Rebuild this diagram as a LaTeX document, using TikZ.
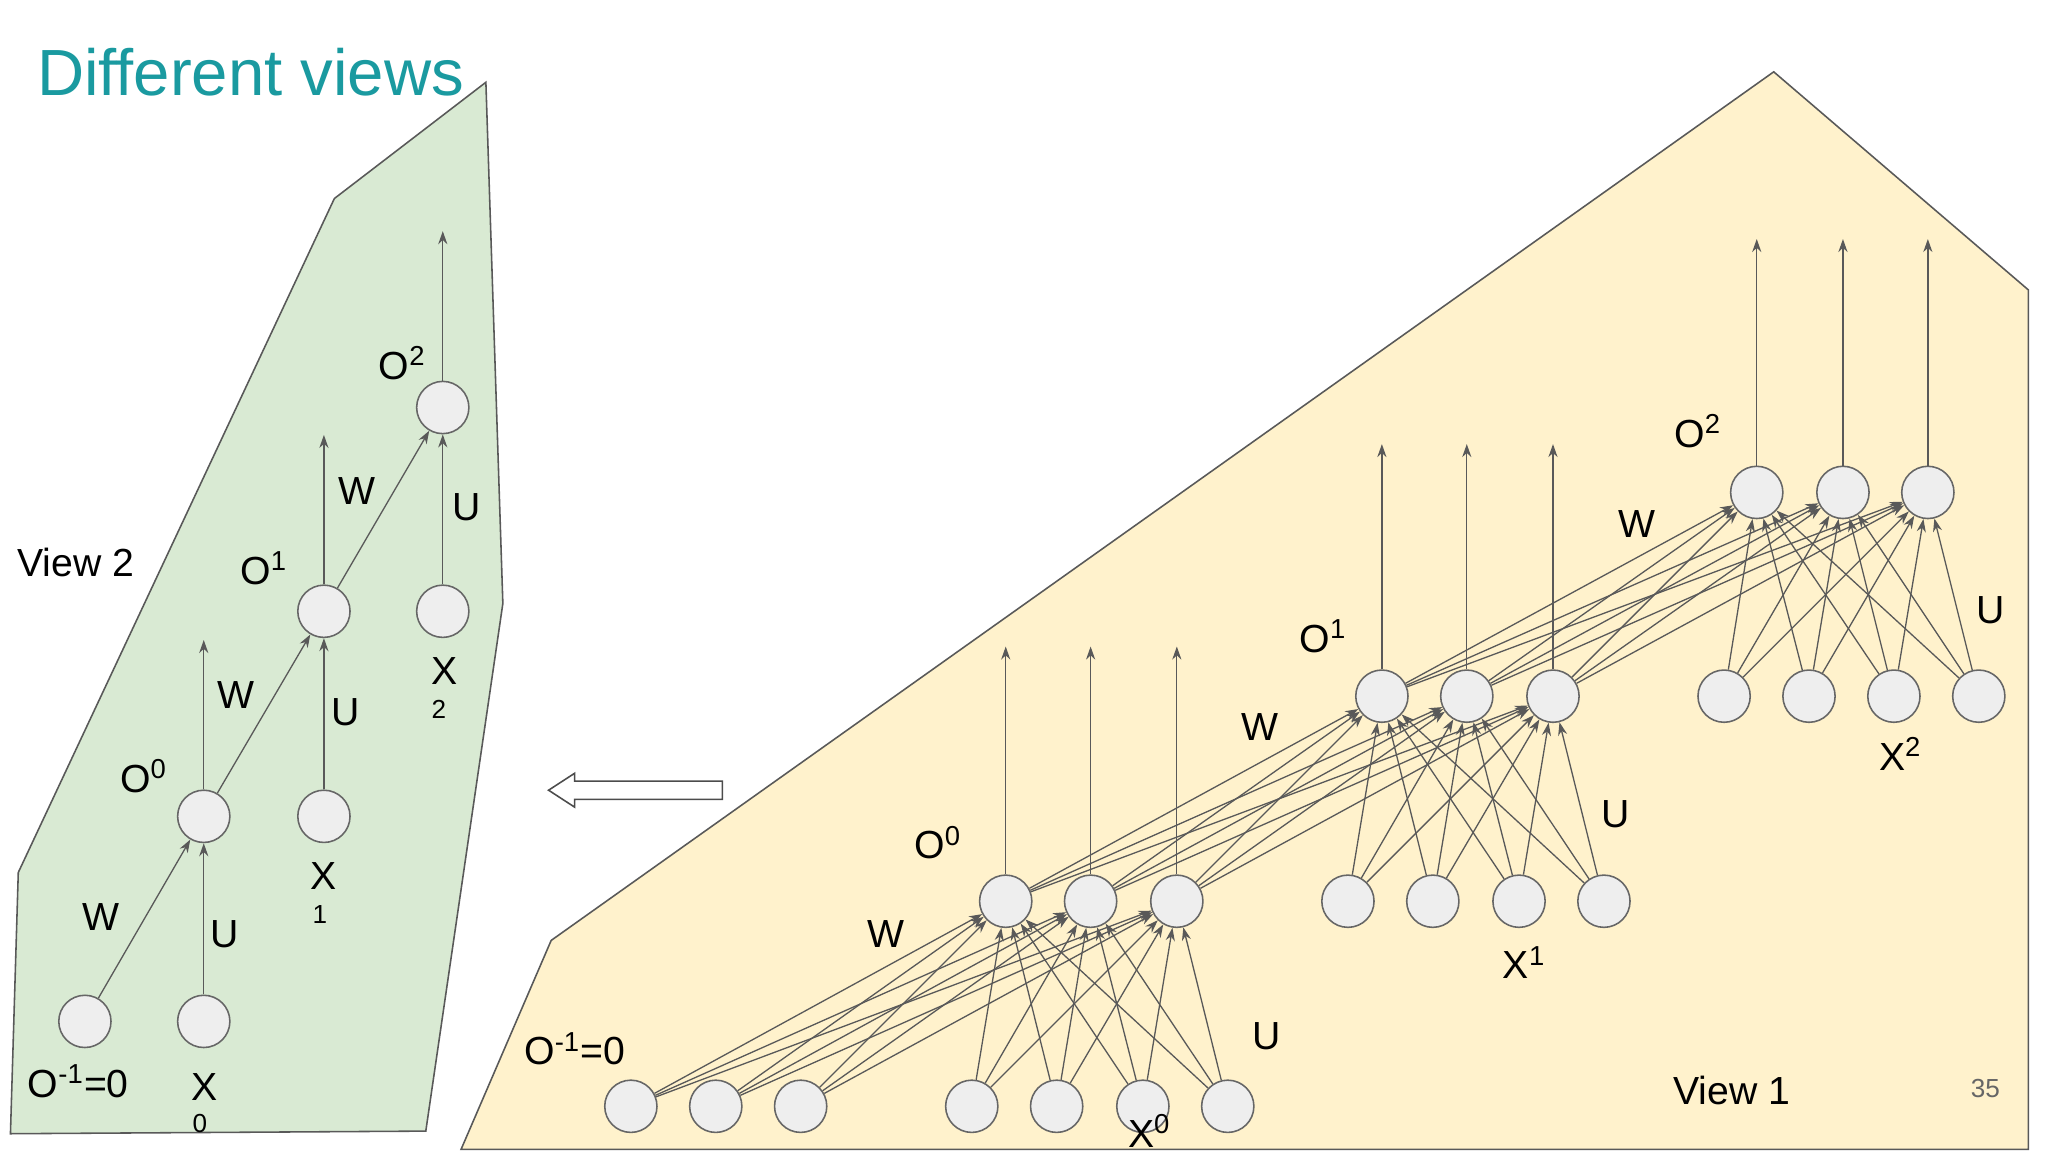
\documentclass[tikz,border=0pt]{standalone}
\usepackage{fontspec}
\setmainfont{Liberation Sans}
\usetikzlibrary{arrows.meta}
\definecolor{lg}{HTML}{D9EAD3}
\definecolor{ly}{HTML}{FFF2CC}
\definecolor{teal}{HTML}{1A9AA0}
\definecolor{nf}{HTML}{EEEEEE}
\newcommand{\sps}[1]{\textsuperscript{#1}}
\begin{document}
\begin{tikzpicture}[x=0.5pt,y=-0.5pt,
  nd/.style={circle,draw=black!60,fill=nf,line width=0.6pt,minimum size=20pt,inner sep=0pt},
  ar/.style={draw=black!65,line width=0.5pt,-{Stealth[length=5pt,width=3.5pt]}},
  lb/.style={font=\fontsize{15}{17}\selectfont,inner sep=0pt},
  sub/.style={font=\fontsize{10}{11}\selectfont,inner sep=0pt}]
\useasboundingbox (0,0) rectangle (1568,882);
\fill[white] (0,0) rectangle (1568,882);
\filldraw[fill=lg,draw=black!65,line width=0.6pt] (372,63)--(256,152)--(14,668)--(8,868)--(326,866)--(385,462)--cycle;
\filldraw[fill=ly,draw=black!65,line width=0.6pt] (1358,55)--(1553,222)--(1553,880)--(353,880)--(422,720)--cycle;
\node[anchor=west,text=teal,font=\fontsize{25}{28}\selectfont,inner sep=0pt] (title) at (28,55) {Different views};
% View 2
\node[nd] (a) at (65,782) {}; \node[nd] (b) at (156,782) {};
\node[nd] (c) at (156,625) {}; \node[nd] (d) at (248,625) {};
\node[nd] (e) at (248,468) {}; \node[nd] (f) at (339,468) {};
\node[nd] (g) at (339,312) {};
\coordinate (c2) at (156,490); \coordinate (e2) at (248,333); \coordinate (g2) at (339,177);
\draw[ar] (a)--(c); \draw[ar] (b)--(c); \draw[ar] (c)--(e); \draw[ar] (d)--(e);
\draw[ar] (e)--(g); \draw[ar] (f)--(g);
\draw[ar] (c)--(c2); \draw[ar] (e)--(e2); \draw[ar] (g)--(g2);
\node[lb] (l1) at (77,702) {W}; \node[lb] (l2) at (172,715) {U};
\node[lb] (l3) at (110,594) {O\sps{0}}; \node[lb] (l4) at (181,532) {W};
\node[lb] (l5) at (265,545) {U}; \node[lb] (l6) at (248,671) {X}; \node[sub] (l7) at (245,700) {1};
\node[lb] (l8) at (202,435) {O\sps{1}}; \node[lb] (l9) at (273,376) {W};
\node[lb] (l10) at (357,388) {U}; \node[lb] (l11) at (340,514) {X}; \node[sub] (l12) at (336,543) {2};
\node[lb] (l13) at (308,278) {O\sps{2}}; \node[lb] (l14) at (58,431) {View 2};
\node[lb] (l15) at (60,828) {O\sps{-1}=0}; \node[lb] (l16) at (157,832) {X}; \node[sub] (l17) at (153,860) {0};
% hollow arrow
\draw[black!70,line width=0.6pt,fill=white] (553,598)--(440,598)--(440,592)--(420,605)--(440,618)--(440,612)--(553,612)--cycle;
% View 1
\foreach \x [count=\i] in {483,548,613} \node[nd] (p\i) at (\x,847) {};
\foreach \x [count=\i] in {744,809,875,940} \node[nd] (xa\i) at (\x,847) {};
\foreach \x [count=\i] in {770,835,901} \node[nd] (oa\i) at (\x,690) {};
\foreach \x [count=\i] in {1032,1097,1163,1228} \node[nd] (xb\i) at (\x,690) {};
\foreach \x [count=\i] in {1058,1123,1189} \node[nd] (ob\i) at (\x,533) {};
\foreach \x [count=\i] in {1320,1385,1450,1515} \node[nd] (xc\i) at (\x,533) {};
\foreach \x [count=\i] in {1345,1411,1476} \node[nd] (oc\i) at (\x,377) {};
\foreach \j in {1,2,3}{
  \foreach \i in {1,2,3}{\draw[ar] (p\i)--(oa\j); \draw[ar] (oa\i)--(ob\j); \draw[ar] (ob\i)--(oc\j);}
  \foreach \i in {1,2,3,4}{\draw[ar] (xa\i)--(oa\j); \draw[ar] (xb\i)--(ob\j); \draw[ar] (xc\i)--(oc\j);}
}
\foreach \x [count=\i] in {770,835,901} {\coordinate (ta\i) at (\x,495); \draw[ar] (oa\i)--(ta\i);}
\foreach \x [count=\i] in {1058,1123,1189} {\coordinate (tb\i) at (\x,340); \draw[ar] (ob\i)--(tb\i);}
\foreach \x [count=\i] in {1345,1411,1476} {\coordinate (tc\i) at (\x,183); \draw[ar] (oc\i)--(tc\i);}
\node[lb] (m1) at (440,803) {O\sps{-1}=0}; \node[lb] (m2) at (880,866) {X\sps{0}};
\node[lb] (m3) at (970,793) {U}; \node[lb] (m4) at (678,715) {W};
\node[lb] (m5) at (718,645) {O\sps{0}}; \node[lb] (m6) at (965,557) {W};
\node[lb] (m7) at (1237,623) {U}; \node[lb] (m8) at (1167,737) {X\sps{1}};
\node[lb] (m9) at (1013,487) {O\sps{1}}; \node[lb] (m10) at (1253,401) {W};
\node[lb] (m11) at (1524,467) {U}; \node[lb] (m12) at (1455,577) {X\sps{2}};
\node[lb] (m13) at (1300,330) {O\sps{2}}; \node[lb] (m14) at (1326,835) {View 1};
\node[inner sep=0pt,text=black!60,font=\fontsize{10}{11}\selectfont] (pg) at (1520,833) {35};
\end{tikzpicture}
\end{document}
